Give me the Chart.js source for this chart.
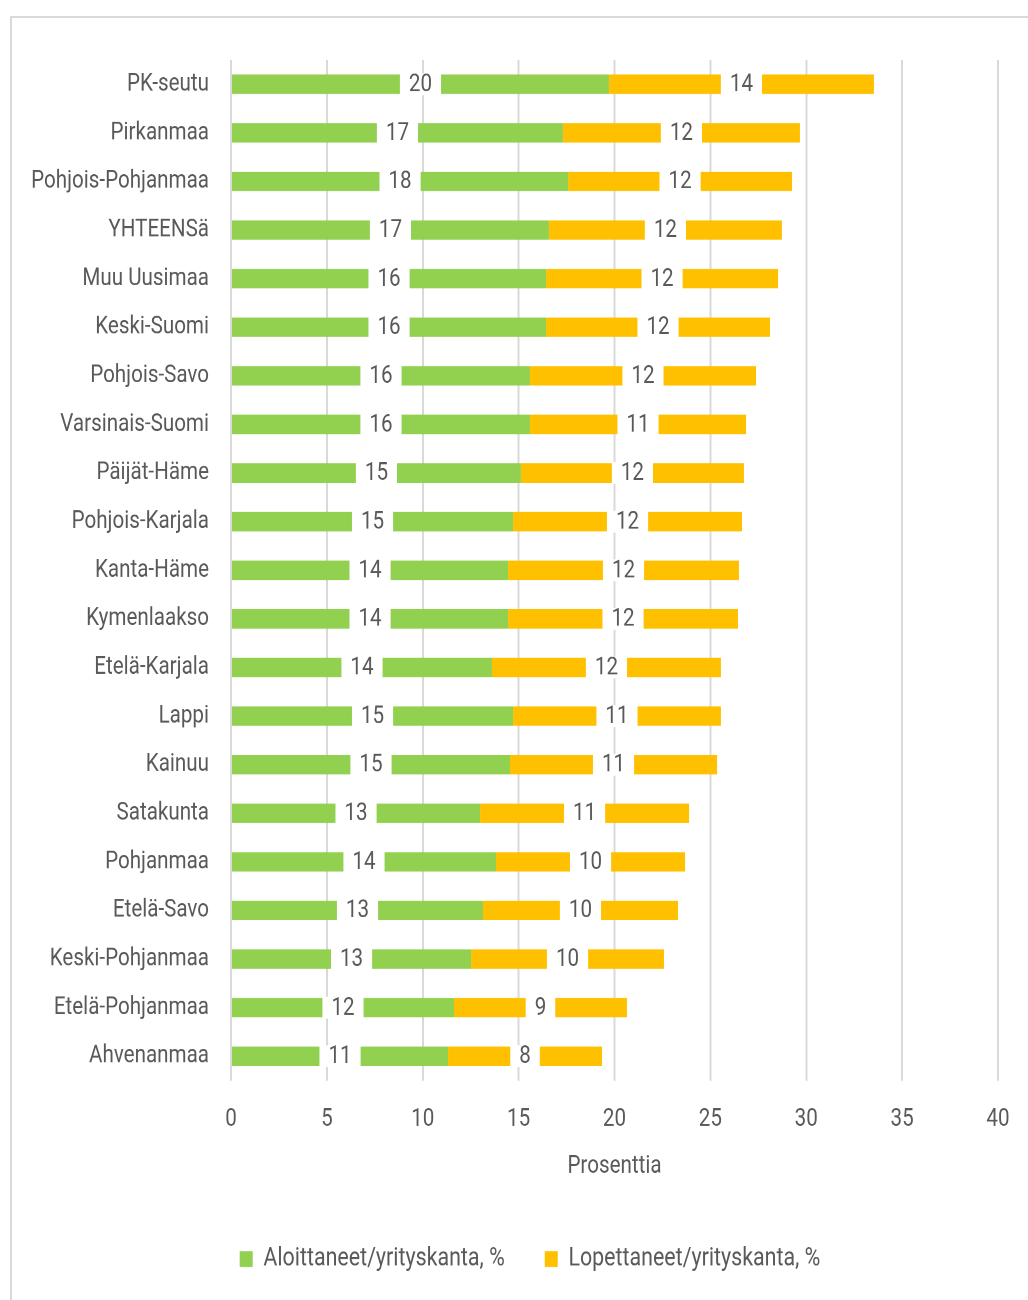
<!DOCTYPE html>
<html>
<head>
<meta charset="utf-8">
<script src="https://cdn.jsdelivr.net/npm/chart.js@4"></script>
<style>
  html, body { margin: 0; padding: 0; background: #ffffff; overflow: hidden; }
  #frame { position: absolute; left: 10px; top: 16px; width: 1030px; height: 1300px; border: 2px solid #d9d9d9; box-sizing: border-box; overflow: hidden; }
  #wrap { position: absolute; left: 0; top: 0; width: 1026px; height: 1038px; transform: scaleY(1.22); transform-origin: 0 0; }
</style>
</head>
<body>
<div id="frame"><div id="wrap"><canvas id="c"></canvas></div></div>
<script>
const categories = ["PK-seutu","Pirkanmaa","Pohjois-Pohjanmaa","YHTEENSä","Muu Uusimaa","Keski-Suomi","Pohjois-Savo","Varsinais-Suomi","Päijät-Häme","Pohjois-Karjala","Kanta-Häme","Kymenlaakso","Etelä-Karjala","Lappi","Kainuu","Satakunta","Pohjanmaa","Etelä-Savo","Keski-Pohjanmaa","Etelä-Pohjanmaa","Ahvenanmaa"];
const aloittaneet = [19.71,17.31,17.58,16.58,16.43,16.43,15.59,15.59,15.12,14.71,14.45,14.45,13.61,14.71,14.55,12.99,13.82,13.14,12.52,11.63,11.32];
const lopettaneet = [13.82,12.36,11.68,12.15,12.10,11.68,11.79,11.27,11.63,11.94,12.04,11.99,11.94,10.84,10.80,10.90,9.86,10.17,10.06,9.02,8.03];
const seriesNames = ["Aloittaneet/yrityskanta, %","Lopettaneet/yrityskanta, %"];
const axisTitle = "Prosenttia";
const xTicks = { min: 0, max: 40, step: 5 };

const FONT = "Roboto, 'Noto Sans', sans-serif";
const FS = 20.6;
const TXT = "#595959";

const labelPlugin = {
  id: 'segLabels',
  afterLayout(chart) {
    const lg = chart.legend;
    if (lg) { lg.left += 25; lg.right += 25; }
  },
  afterDatasetsDraw(chart) {
    const ctx = chart.ctx;
    ctx.save();
    ctx.font = FS + "px " + FONT;
    ctx.textAlign = "center";
    ctx.textBaseline = "middle";
    chart.data.datasets.forEach((ds, di) => {
      const meta = chart.getDatasetMeta(di);
      meta.data.forEach((bar, i) => {
        const txt = String(Math.round(ds.data[i]));
        const cx = (bar.x + bar.base) / 2;
        const w = ctx.measureText(txt).width + 18;
        const h = bar.height + 2;
        ctx.fillStyle = "#ffffff";
        ctx.fillRect(cx - w / 2, bar.y - h / 2, w, h);
        ctx.fillStyle = TXT;
        ctx.fillText(txt, cx, bar.y + 0.5);
      });
    });
    ctx.restore();
  }
};

new Chart(document.getElementById('c'), {
  type: 'bar',
  data: {
    labels: categories,
    datasets: [
      { label: seriesNames[0], data: aloittaneet, backgroundColor: "#92D050", borderWidth: 0, barPercentage: 0.4, categoryPercentage: 1 },
      { label: seriesNames[1], data: lopettaneet, backgroundColor: "#FFC000", borderWidth: 0, barPercentage: 0.4, categoryPercentage: 1 }
    ]
  },
  options: {
    indexAxis: 'y',
    responsive: true,
    maintainAspectRatio: false,
    devicePixelRatio: 2,
    animation: false,
    layout: { padding: { top: 31.2, right: 40, bottom: 0, left: 0 } },
    scales: {
      x: {
        stacked: true,
        min: xTicks.min, max: xTicks.max,
        ticks: { stepSize: xTicks.step, color: TXT, font: { family: FONT, size: FS }, padding: 19.5 },
        grid: { color: "#d9d9d9", lineWidth: 2, drawTicks: false },
        border: { display: false },
        title: { display: true, text: axisTitle, color: TXT, font: { family: FONT, size: FS }, padding: { top: -5.9, bottom: 13.1 } }
      },
      y: {
        stacked: true,
        ticks: { color: TXT, font: { family: FONT, size: FS }, padding: 22 },
        grid: { display: false, drawTicks: false },
        border: { display: false },
        afterFit(scale) { scale.width = 219; }
      }
    },
    plugins: {
      legend: {
        position: 'bottom',
        labels: {
          color: TXT,
          font: { family: FONT, size: 21.4 },
          boxWidth: 13,
          boxHeight: 13,
          padding: 40
        }
      },
      tooltip: { enabled: false }
    }
  },
  plugins: [labelPlugin]
});
</script>
</body>
</html>
